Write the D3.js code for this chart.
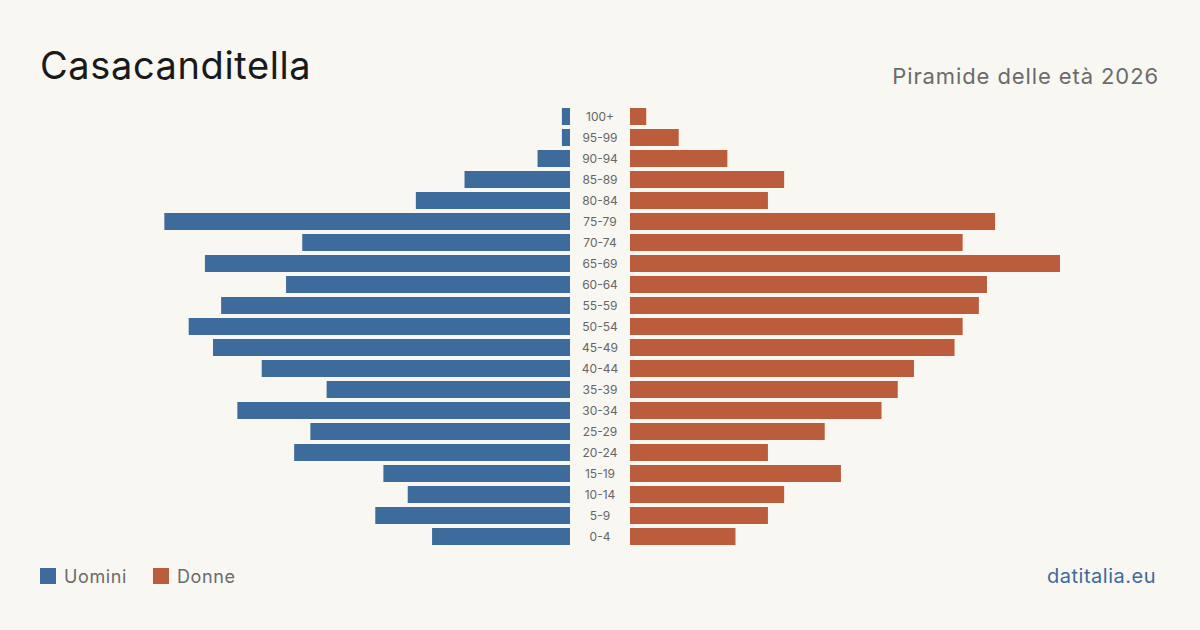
<!DOCTYPE html>
<html>
<head>
<meta charset="utf-8">
<script src="https://cdn.jsdelivr.net/npm/d3@7"></script>
<style>
  html, body { margin: 0; padding: 0; background: #f9f7f2; }
  svg { display: block; font-family: Inter, "Noto Sans", sans-serif; }
</style>
</head>
<body>
<svg id="chart" width="1200" height="630"></svg>
<script>
// age classes, top to bottom
var ageGroups = ["100+", "95-99", "90-94", "85-89", "80-84", "75-79", "70-74", "65-69", "60-64", "55-59",
  "50-54", "45-49", "40-44", "35-39", "30-34", "25-29", "20-24", "15-19", "10-14", "5-9", "0-4"];
var men = [1, 1, 4, 13, 19, 50, 33, 45, 35, 43, 47, 44, 38, 30, 41, 32, 34, 23, 20, 24, 17];
var women = [2, 6, 12, 19, 17, 45, 41, 53, 44, 43, 41, 40, 35, 33, 31, 24, 17, 26, 19, 17, 13];

var W = 1200, H = 630;
var blue = "#3c6b9c", red = "#bb5d3d";
var svg = d3.select("#chart");

svg.append("rect").attr("width", W).attr("height", H).attr("fill", "#f9f7f2");

var maxVal = d3.max(men.concat(women));
var y = d3.scaleBand().domain(ageGroups).range([106, 547]).paddingInner(4 / 21).paddingOuter(2 / 21);
var xLeft = d3.scaleLinear().domain([0, maxVal]).range([570, 140]);
var xRight = d3.scaleLinear().domain([0, maxVal]).range([630, 1060]);

// men bars
svg.append("g").selectAll("rect")
  .data(men)
  .enter()
  .append("rect")
  .attr("x", d => xLeft(d))
  .attr("y", (d, i) => y(ageGroups[i]))
  .attr("width", d => xLeft(0) - xLeft(d))
  .attr("height", y.bandwidth())
  .attr("fill", blue);

// women bars
svg.append("g").selectAll("rect")
  .data(women)
  .enter()
  .append("rect")
  .attr("x", xRight(0))
  .attr("y", (d, i) => y(ageGroups[i]))
  .attr("width", d => xRight(d) - xRight(0))
  .attr("height", y.bandwidth())
  .attr("fill", red);

// age labels in the middle
svg.append("g").selectAll("text")
  .data(ageGroups)
  .enter()
  .append("text")
  .text(d => d)
  .attr("x", 600)
  .attr("y", d => y(d) + y.bandwidth() / 2)
  .attr("text-anchor", "middle")
  .attr("dominant-baseline", "central")
  .attr("font-size", "12px")
  .attr("fill", "#666");

// titles
svg.append("text")
  .attr("x", 40).attr("y", 79)
  .attr("font-size", "38px")
  .attr("letter-spacing", "0.6px")
  .attr("fill", "#1a1a1a")
  .text("Casacanditella");

svg.append("text")
  .attr("x", 1159).attr("y", 84)
  .attr("text-anchor", "end")
  .attr("font-size", "22px")
  .attr("letter-spacing", "0.9px")
  .attr("fill", "#6b6b6b")
  .text("Piramide delle età 2026");

// legend
var legend = [{label: "Uomini", color: blue, x: 40}, {label: "Donne", color: red, x: 153}];
var lg = svg.append("g").selectAll("g").data(legend).enter().append("g");
lg.append("rect")
  .attr("x", d => d.x).attr("y", 568)
  .attr("width", 16).attr("height", 16)
  .attr("fill", d => d.color);
lg.append("text")
  .attr("x", d => d.x + 24).attr("y", 583)
  .attr("font-size", "18px")
  .attr("letter-spacing", "0.6px")
  .attr("fill", "#6b6b6b")
  .text(d => d.label);

svg.append("text")
  .attr("x", 1156).attr("y", 583)
  .attr("text-anchor", "end")
  .attr("font-size", "20px")
  .attr("letter-spacing", "0.5px")
  .attr("fill", "#3c6b9c")
  .text("datitalia.eu");
</script>
</body>
</html>
